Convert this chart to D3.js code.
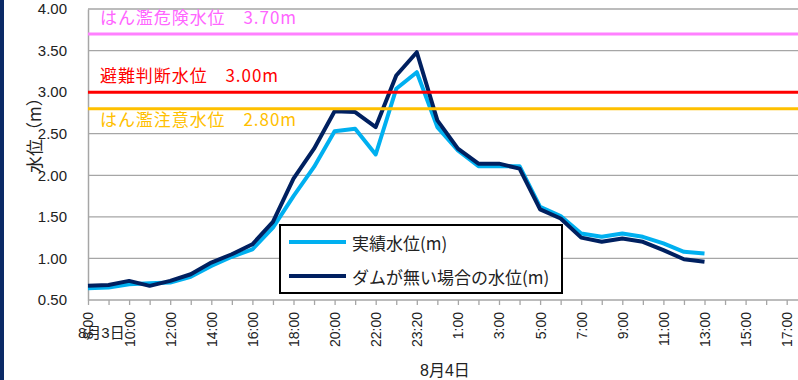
<!DOCTYPE html>
<html>
<head>
<meta charset="utf-8">
<script src="https://cdn.jsdelivr.net/npm/d3@7"></script>
<style>
  body { margin: 0; background: #fff; }
  svg { display: block; font-family: "Liberation Sans", "Noto Sans CJK JP", sans-serif; }
</style>
</head>
<body>
<div id="chart"></div>
<script>
// categories on the x axis (8/3 8:00 -> 8/4 18:00)
const categories = ["8:00","9:00","10:00","11:00","12:00","13:00","14:00","15:00","16:00","17:00",
  "18:00","19:00","20:00","21:00","22:00","23:00","23:20","0:00","1:00","2:00","3:00","4:00",
  "5:00","6:00","7:00","8:00b","9:00b","10:00b","11:00b","12:00b","13:00b","14:00b","15:00b",
  "16:00b","17:00b","18:00b"];
const observed = [0.64,0.65,0.69,0.70,0.71,0.78,0.91,1.02,1.11,1.37,1.75,2.10,2.53,2.56,2.25,
  3.04,3.24,2.58,2.30,2.11,2.11,2.11,1.62,1.51,1.30,1.26,1.30,1.26,1.18,1.08,1.06];
const noDam = [0.67,0.68,0.73,0.67,0.73,0.81,0.95,1.05,1.17,1.44,1.96,2.32,2.77,2.76,2.58,
  3.20,3.48,2.66,2.32,2.14,2.14,2.08,1.59,1.48,1.25,1.20,1.24,1.20,1.10,0.99,0.96];
const yTicks = [0.5,1.0,1.5,2.0,2.5,3.0,3.5,4.0];
const refLevels = [
  { label: "はん濫危険水位　3.70m", value: 3.70, color: "#ff80ff", text: "#ff66ff", dy: -10 },
  { label: "避難判断水位　3.00m", value: 3.00, color: "#ff0000", text: "#ff0000", dy: -10 },
  { label: "はん濫注意水位　2.80m", value: 2.80, color: "#ffc000", text: "#ffc000", dy: 17 }
];
const seriesNames = ["実績水位(m)", "ダムが無い場合の水位(m)"];

const W = 798, H = 380;
const svg = d3.select("#chart").append("svg").attr("width", W).attr("height", H);

// navy strip on the left edge
svg.append("rect").attr("x", 0).attr("y", 0).attr("width", 4).attr("height", H).attr("fill", "#0b2a66");

const x = d3.scalePoint().domain(d3.range(categories.length)).range([88, 88 + 35 * 20.55]);
const y = d3.scaleLinear().domain([0.5, 4.0]).range([300, 9]);

// grid lines
svg.append("g").selectAll("line").data(yTicks.slice(1)).join("line")
  .attr("x1", 88).attr("x2", W)
  .attr("y1", d => y(d)).attr("y2", d => y(d))
  .attr("stroke", "#a6a6a6").attr("stroke-width", 1.3);

// y axis
const yAxis = svg.append("g").attr("transform", "translate(88,0)")
  .call(d3.axisLeft(y).tickValues(yTicks).tickFormat(d3.format(".2f")).tickSize(0).tickPadding(21));
yAxis.select(".domain").attr("stroke", "#a6a6a6").attr("stroke-width", 1.5);
yAxis.selectAll("text").attr("font-size", 15).attr("fill", "#222");

// x axis
const xAxis = svg.append("g").attr("transform", "translate(0,300)")
  .call(d3.axisBottom(x).tickSize(5).tickSizeOuter(0)
    .tickFormat(i => i % 2 === 0 ? categories[i].replace("b", "") : ""));
xAxis.select(".domain").attr("stroke", "#a6a6a6").attr("stroke-width", 1.5);
xAxis.selectAll(".tick line").attr("stroke", "#a6a6a6").attr("stroke-width", 1.3);
xAxis.selectAll("text")
  .attr("font-size", 14).attr("fill", "#222")
  .attr("transform", "rotate(-90)")
  .attr("text-anchor", "end")
  .attr("x", -12).attr("y", 0).attr("dy", "0.35em");
xAxis.select(".domain").attr("d", `M88,0H${W}`);

// date labels
svg.append("text").attr("x", 78).attr("y", 338).attr("font-size", 15).attr("fill", "#222").text("8月3日");
svg.append("text").attr("x", 420).attr("y", 376).attr("font-size", 16).attr("fill", "#222").text("8月4日");

// y axis title
svg.append("text")
  .attr("transform", "translate(33,131) rotate(-90)")
  .attr("text-anchor", "middle").attr("dominant-baseline", "central")
  .attr("font-size", 17).attr("fill", "#222")
  .attr("font-family", "'Noto Sans CJK JP', sans-serif")
  .text("水位（m）");

// data lines
const line = d3.line().x((d, i) => x(i)).y(d => y(d));
svg.append("path").datum(observed).attr("d", line)
  .attr("fill", "none").attr("stroke", "#00b0f0").attr("stroke-width", 4).attr("stroke-linejoin", "round");
svg.append("path").datum(noDam).attr("d", line)
  .attr("fill", "none").attr("stroke", "#002060").attr("stroke-width", 4).attr("stroke-linejoin", "round");

// reference levels
const ref = svg.append("g").selectAll("g").data(refLevels).join("g");
ref.append("line")
  .attr("x1", 88).attr("x2", W)
  .attr("y1", d => y(d.value)).attr("y2", d => y(d.value))
  .attr("stroke", d => d.color).attr("stroke-width", 3);
ref.append("text")
  .attr("x", 100).attr("y", d => y(d.value) + d.dy)
  .attr("font-family", "'Noto Sans CJK JP', sans-serif")
  .attr("font-size", 17).attr("fill", d => d.text)
  .attr("textLength", d => d.value === 3.0 ? 178 : 196).attr("lengthAdjust", "spacing")
  .text(d => d.label);

// legend
const lg = svg.append("g");
lg.append("rect").attr("x", 280).attr("y", 225).attr("width", 282).attr("height", 68)
  .attr("fill", "#fff").attr("stroke", "#000").attr("stroke-width", 2);
const items = lg.selectAll("g").data(seriesNames).join("g")
  .attr("transform", (d, i) => `translate(0,${242 + i * 34})`);
items.append("line").attr("x1", 289).attr("x2", 346).attr("y1", 0).attr("y2", 0)
  .attr("stroke", (d, i) => i === 0 ? "#00b0f0" : "#002060").attr("stroke-width", 4);
items.append("text").attr("x", 352).attr("y", 0).attr("dominant-baseline", "central")
  .attr("font-family", "'Noto Sans CJK JP', sans-serif")
  .attr("font-size", 17).attr("fill", "#222").text(d => d);
</script>
</body>
</html>
